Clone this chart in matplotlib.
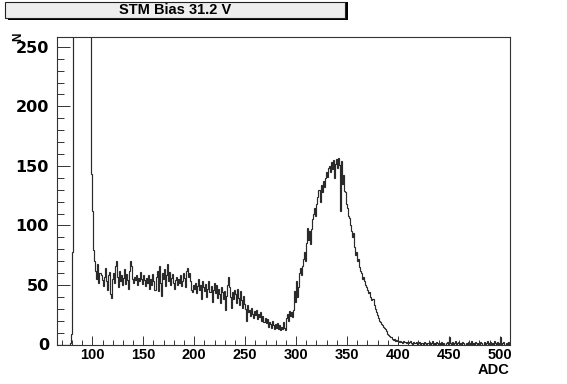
import numpy as np
import matplotlib
matplotlib.use('Agg')
import matplotlib.pyplot as plt
from matplotlib.patches import Rectangle
from matplotlib.ticker import MultipleLocator

title = 'STM Bias 31.2 V'
x_label = 'ADC'
y_label = 'N'

# one bin per ADC count, starting at 64
first_bin = 64
lead = [0] * 14 + [1, 9, 78]                      # 64 - 80
saturated = [420, 980, 1650, 2100, 2300, 2250, 2100, 1900, 1700,
             1500, 1300, 1100, 900, 750, 600, 480, 380, 300]   # 81 - 98
shoulder = [143, 112, 79, 70,                     # 99 - 102
            62, 55, 68, 52, 60, 58, 54, 49, 57, 64,
            53, 46, 58, 61, 42, 39, 55, 60, 52, 66,
            70, 57, 48, 62, 53, 58, 50, 56, 63, 51,
            59, 54, 47, 62, 70, 66, 55, 52, 57, 54,
            58, 50, 56, 53, 61, 55, 51, 58, 54, 49,
            56, 52, 58, 47, 55, 50, 59, 53, 46, 57,
            62, 45, 66, 52, 41, 60, 55, 63, 49, 58,
            68, 53, 61, 50, 56, 59, 52, 47, 54, 57,
            50, 55, 52, 58, 49, 53, 60, 56, 48, 62,
            64, 57, 60, 53, 46, 44, 50]
valley = [47, 52, 43, 49, 55, 46, 50, 38, 53, 48,   # 200 - 299
          45, 51, 40, 47, 53, 44, 49, 36, 46, 52,
          43, 50, 39, 47, 42, 35, 48, 44, 38, 45,
          29, 41, 50, 57, 48, 40, 31, 44, 38, 46,
          42, 35, 47, 39, 33, 45, 37, 31, 41, 34,
          30, 20, 33, 27, 29, 24, 31, 26, 22, 28,
          25, 29, 21, 26, 23, 27, 20, 24, 19, 22,
          18, 21, 15, 19, 17, 14, 20, 16, 13, 17,
          14, 18, 13, 16, 12, 15, 13, 19, 14, 12,
          22, 26, 20, 28, 24, 27, 23, 29, 45, 36]
photopeak = [53, 40, 48, 60, 64, 58, 66, 72, 78, 70,  # 300 - 399
             85, 98, 88, 95, 84, 97, 105, 110, 115, 108,
             118, 124, 130, 120, 134, 128, 137, 132, 140, 145,
             141, 148, 150, 145, 153, 147, 155, 140, 152, 156,
             148, 157, 151, 112, 154, 135, 142, 129, 128, 118,
             115, 108, 106, 100, 95, 90, 94, 82, 75, 78,
             70, 72, 65, 62, 60, 55, 57, 53, 50, 48,
             46, 43, 44, 40, 37, 38, 33, 30, 27, 25,
             22, 20, 19, 17, 16, 15, 14, 13, 11, 9,
             8, 7, 6, 6, 5, 4, 5, 3, 4, 3]
tail = [3, 2, 3, 2, 1, 3, 2, 2, 1, 2,              # 400 - 511
        1, 2, 3, 1, 0, 2, 1, 1, 2, 0,
        1, 2, 0, 1, 1, 0, 2, 1, 0, 1,
        2, 0, 1, 3, 0, 1, 0, 2, 1, 0,
        1, 0, 2, 0, 1, 0, 0, 1, 2, 0,
        6, 1, 0, 2, 0, 1, 3, 0, 1, 2,
        0, 1, 0, 2, 1, 0, 0, 1, 0, 2,
        1, 0, 3, 0, 1, 0, 2, 1, 0, 1,
        0, 2, 1, 0, 2, 0, 1, 3, 0, 1,
        2, 0, 1, 0, 3, 1, 0, 2, 0, 1,
        6, 0, 1, 2, 0, 0, 1, 0, 2, 0,
        0, 1]

counts = np.array(lead + saturated + shoulder + valley + photopeak + tail)
edges = np.arange(first_bin, first_bin + len(counts) + 1)

x_ticks = [100, 150, 200, 250, 300, 350, 400, 450, 500]
y_ticks = [0, 50, 100, 150, 200, 250]

W, H = 567, 384
fig = plt.figure(figsize=(W / 100, H / 100), dpi=100)
ax = fig.add_axes([56.7 / W, 1 - 344.5 / H, (510 - 56.7) / W, (344.5 - 37.3) / H])

ax.stairs(counts, edges, color='#2a2a2a', lw=0.85)
ax.set_xlim(65, 510)
ax.set_ylim(0, 258)

for s in ax.spines.values():
    s.set_linewidth(0.8)
    s.set_color('#333333')

ax.set_xticks(x_ticks)
ax.set_xticklabels([str(t) for t in x_ticks], family='Liberation Sans', weight='bold', size=10.5)
ax.set_yticks(y_ticks)
ax.set_yticklabels([str(t) for t in y_ticks], family='DejaVu Sans', weight='bold', size=11.5)
ax.xaxis.set_minor_locator(MultipleLocator(10))
ax.yaxis.set_minor_locator(MultipleLocator(10))
ax.tick_params(axis='x', which='major', direction='in', length=6.5, width=0.7, pad=2.5, color='#333333')
ax.tick_params(axis='x', which='minor', direction='in', length=3.3, width=0.7, color='#333333')
ax.tick_params(axis='y', which='major', direction='in', length=9.5, width=0.7, pad=5.5, color='#333333')
ax.tick_params(axis='y', which='minor', direction='in', length=4.8, width=0.7, color='#333333')
ax.tick_params(top=False, right=False, which='both')

fig.text(510 / W, 1 - 370 / H, x_label, ha='right', va='center',
         family='Liberation Sans', weight='bold', size=10.5)
fig.text(18 / W, 1 - 37 / H, y_label, ha='center', va='center', rotation=90,
         family='Liberation Sans', weight='bold', size=8.5)

# title box with shadow, ROOT style
fig.patches.append(Rectangle((8 / W, 1 - 20 / H), 340 / W, 18 / H,
                             transform=fig.transFigure, facecolor='black', edgecolor='none'))
fig.patches.append(Rectangle((5 / W, 1 - 18.3 / H), 340 / W, 16.6 / H,
                             transform=fig.transFigure, facecolor='#eeeeee',
                             edgecolor='#222222', lw=0.8))
fig.text(175 / W, 1 - 10 / H, title, ha='center', va='center',
         family='Liberation Sans', weight='bold', size=10.5)

fig.savefig('out.png', dpi=100)
